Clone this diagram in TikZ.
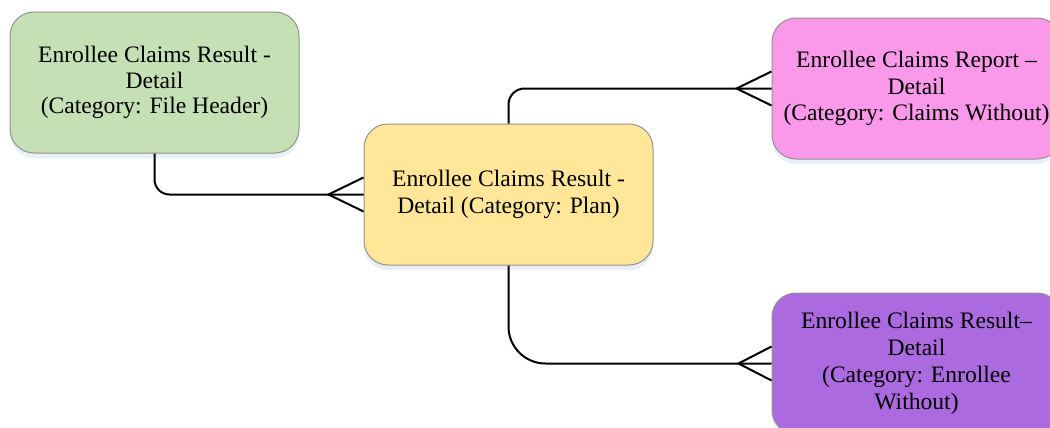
\documentclass[tikz,border=0pt]{standalone}
\usepackage{fontspec}
\setmainfont{Liberation Serif}
\usepackage{tikz}
\usetikzlibrary{positioning,calc,shadows}
\usepackage{xcolor}
\definecolor{hdrgreen}{RGB}{197,224,180}
\definecolor{planyellow}{RGB}{255,230,153}
\definecolor{rptpink}{RGB}{250,152,233}
\definecolor{enrpurple}{RGB}{172,106,224}
\definecolor{glow}{RGB}{200,216,236}

\begin{document}
\begin{tikzpicture}[
  x=0.5pt, y=-0.5pt,
  box/.style={rectangle, rounded corners=12pt, draw=gray!85, line width=0.5pt,
    minimum width=144.5pt, minimum height=70.5pt, align=center, inner sep=2pt,
    font=\fontsize{11.8}{13.4}\selectfont,
    drop shadow={shadow xshift=0pt, shadow yshift=-2.5pt, fill=glow, opacity=0.4}},
  conn/.style={draw=black, line width=1pt}
]
\useasboundingbox (0,0) rectangle (1050,428);

\node[box, fill=planyellow] (plan) at (508.5,194.5) {Enrollee Claims Result -\\Detail (Category: Plan)};
\node[box, fill=hdrgreen, font=\fontsize{11.8}{12.8}\selectfont,
      above left=-15pt and 32pt of plan] (hdr) {Enrollee Claims Result -\\Detail\\(Category: File Header)};
\node[box, fill=rptpink, above right=-18pt and 59pt of plan] (rpt) {Enrollee Claims Report --\\Detail\\(Category: Claims Without)};
\node[box, fill=enrpurple, below right=13.5pt and 59pt of plan] (enr) {Enrollee Claims Result--\\Detail\\(Category: Enrollee\\Without)};

% connectors
\draw[conn, rounded corners=7.5pt] (hdr.south) |- (plan.west);
\draw[conn, rounded corners=8pt] (plan.north) |- (rpt.west);
\draw[conn, rounded corners=18.5pt] (plan.south) |- (enr.west);

% crow's feet
\draw[conn] ($(plan.west)+(0,-17)$) -- ($(plan.west)+(-35,0)$) -- ($(plan.west)+(0,17)$);
\draw[conn] ($(rpt.west)+(0,-17)$) -- ($(rpt.west)+(-35,0)$) -- ($(rpt.west)+(0,17)$);
\draw[conn] ($(enr.west)+(0,-17)$) -- ($(enr.west)+(-33,0)$) -- ($(enr.west)+(0,17)$);
\end{tikzpicture}
\end{document}
